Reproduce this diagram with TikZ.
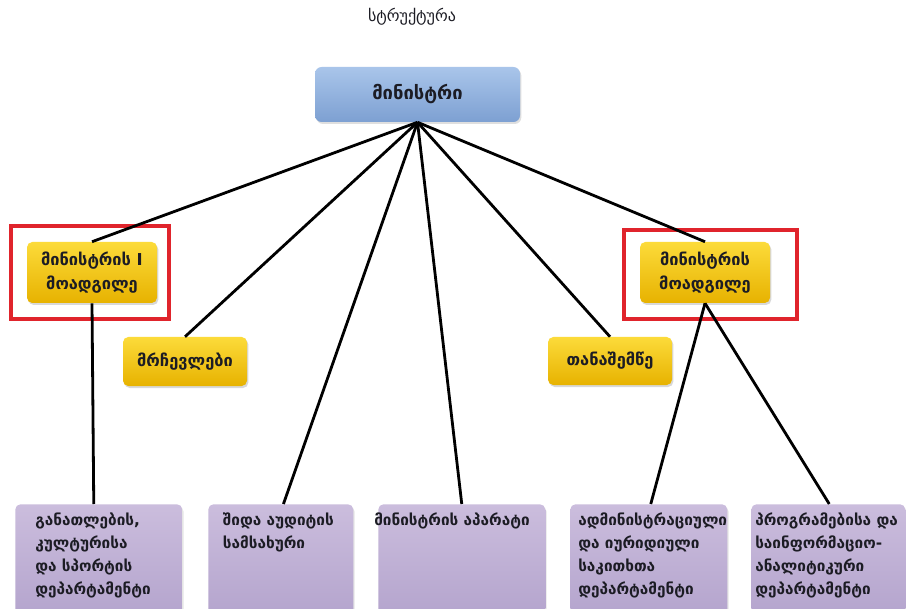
\documentclass[tikz,border=0pt]{standalone}
\usepackage{fontspec}
\setmainfont{DejaVu Sans}
\newfontfamily\geo{DejaVu Sans}
\usetikzlibrary{shadows}
\definecolor{bluetop}{HTML}{A9C5EA}
\definecolor{bluebot}{HTML}{7DA0D2}
\definecolor{yeltop}{HTML}{FCDB3A}
\definecolor{yelbot}{HTML}{E7B200}
\definecolor{purtop}{HTML}{CBBDDD}
\definecolor{purbot}{HTML}{A796C4}
\definecolor{txtdark}{HTML}{1C1C24}
\definecolor{framered}{HTML}{E0242C}
\tikzset{
  topbox/.style={rounded corners=5pt, top color=bluetop, bottom color=bluebot,
    minimum width=153.75pt, minimum height=41.25pt, inner sep=0pt,
    font=\geo\bfseries\fontsize{13.8}{16}\selectfont, text=txtdark,
    drop shadow={shadow xshift=1pt, shadow yshift=-1.5pt, opacity=0.25}},
  yelbox/.style={rounded corners=4pt, top color=yeltop, bottom color=yelbot,
    inner sep=0pt, align=center, text=txtdark,
    font=\geo\bfseries\fontsize{12.3}{17.5}\selectfont,
    drop shadow={shadow xshift=1pt, shadow yshift=-1.5pt, opacity=0.3}},
  purbox/.style={rounded corners=4pt, top color=purtop, bottom color=purbot,
    anchor=north west, inner xsep=0pt, inner ysep=6.5pt, text=txtdark,
    font=\geo\bfseries\fontsize{11.5}{17.25}\selectfont,
    drop shadow={shadow xshift=1pt, shadow yshift=-1.5pt, opacity=0.2}},
  link/.style={line width=2.1pt, black},
  redframe/.style={draw=framered, line width=2.3pt}
}
\newcommand{\ptext}[3]{\parbox[t][120pt][t]{#1}{\raggedright\leftskip=#2\relax #3}}
\begin{document}
\begin{tikzpicture}[x=0.75pt, y=-0.75pt]
\useasboundingbox (0,0) rectangle (906,609);
\clip (0,0) rectangle (906,609);
\fill[white] (0,0) rectangle (906,609);

\node[font=\geo\fontsize{12}{14}\selectfont, text=txtdark] (title) at (412,17) {სტრუქტურა};

\node[topbox] (top) at (417.5,94.5) {მინისტრი};

\node[yelbox, minimum width=97.5pt, minimum height=45.75pt] (m1) at (92,272.5) {მინისტრის I\\მოადგილე};
\node[yelbox, minimum width=93pt, minimum height=36.75pt] (adv) at (185,361.5) {მრჩევლები};
\node[yelbox, minimum width=93pt, minimum height=36pt] (asst) at (610,361) {თანაშემწე};
\node[yelbox, minimum width=97.5pt, minimum height=45.75pt] (m2) at (705,272.5) {მინისტრის\\მოადგილე};

\draw[redframe] (11,226) rectangle (169,319);
\draw[redframe] (624,230) rectangle (797,319);

\node[purbox] (b1) at (15,504) {\ptext{125.25pt}{15pt}{განათლების,\\ კულტურისა\\ და სპორტის\\ დეპარტამენტი}};
\node[purbox] (b2) at (208,504) {\ptext{108.75pt}{11pt}{შიდა აუდიტის\\ სამსახური}};
\node[purbox] (b3) at (378,504) {\ptext{125.25pt}{-3pt}{მინისტრის აპარატი}};
\node[purbox] (b4) at (570,504) {\ptext{117.75pt}{6pt}{ადმინისტრაციული\\ და იურიდიული\\ საკითხთა\\ დეპარტამენტი}};
\node[purbox] (b5) at (751,504) {\ptext{115.5pt}{3pt}{პროგრამებისა და\\ საინფორმაციო-\\ ანალიტიკური\\ დეპარტამენტი}};

\draw[link] (top.south) -- (m1.north);
\draw[link] (top.south) -- (adv.north);
\draw[link] (top.south) -- ([xshift=2pt]b2.north);
\draw[link] (top.south) -- (b3.north);
\draw[link] (top.south) -- (asst.north);
\draw[link] (top.south) -- (m2.north);
\draw[link] (m1.south) -- ([xshift=-3.75pt]b1.north);
\draw[link] (m2.south) -- ([xshift=1.5pt]b4.north);
\draw[link] (m2.south) -- ([xshift=0.75pt]b5.north);
\end{tikzpicture}
\end{document}
